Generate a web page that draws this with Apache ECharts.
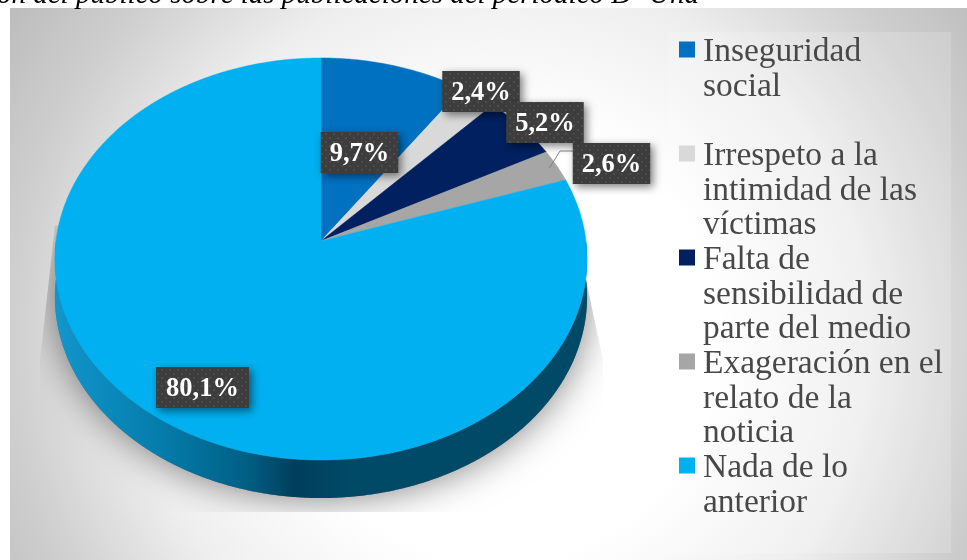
<!DOCTYPE html>
<html><head><meta charset="utf-8">
<style>html,body{margin:0;padding:0;background:#fff;overflow:hidden}#c{width:967px;height:560px}</style>
<script src="https://cdn.jsdelivr.net/npm/echarts@6/dist/echarts.min.js"></script>
</head><body><div id="c"></div>
<script>
const categories = ['Inseguridad\nsocial\n ', 'Irrespeto a la\nintimidad de las\nvíctimas', 'Falta de\nsensibilidad de\nparte del medio', 'Exageración en el\nrelato de la\nnoticia', 'Nada de lo\nanterior\n '];
const values = [9.7, 2.4, 5.2, 2.6, 80.1];
const colors = ['#0070c0', '#d9d9d9', '#002060', '#a6a6a6', '#00b0f0'];
const titleText = 'ón del público sobre las publicaciones del periódico D\u2019 Una';

// projection of the tilted disc
const disc = {cx: 321, cy: 241, a: 199.4, b: 265, p: 0.0896, depth: 38};
const labelCentres = [[359.5, 152.5], [481, 91.5], [545, 122.5], [611.5, 163.5], [202.5, 387.5]];
const leader = {index: 3, at: 0.97, elbow: [560, 151], end: [574, 151]};
const serif = '"Liberation Serif", "DejaVu Serif", serif';

const total = values.reduce((s, v) => s + v, 0);
function pt(frac, dy) {
  const t = 2 * Math.PI * frac, u = Math.sin(t), v = Math.cos(t), d = 1 + disc.p * v;
  return [disc.cx + disc.b * u / d, disc.cy - disc.a * v / d + (dy || 0)];
}
function arc(f0, f1, dy) {
  const n = Math.max(2, Math.ceil(Math.abs(f1 - f0) * 720)), out = [];
  for (let i = 0; i <= n; i++) out.push(pt(f0 + (f1 - f0) * i / n, dy));
  return out;
}
function startOf(i) { return values.slice(0, i).reduce((s, v) => s + v, 0) / total; }

const dots = document.createElement('canvas');
dots.width = dots.height = 8;
(function () {
  const g = dots.getContext('2d');
  g.fillStyle = '#3d3d3d'; g.fillRect(0, 0, 8, 8);
  g.fillStyle = '#4c4c4c';
  g.fillRect(1, 1, 2, 2); g.fillRect(5, 5, 2, 2);
})();

const wallSeries = {
  type: 'custom', name: 'wall', coordinateSystem: 'none', silent: true, z: 1,
  data: [[values[4]]],
  renderItem() {
    const top = arc(0.25, 0.75, 0), bottom = arc(0.75, 0.25, disc.depth);
    return {
      type: 'group',
      children: [
        {type: 'group',
         clipPath: {type: 'polygon', shape: {points: [[55, 225], [586, 280], [603, 360], [603, 512], [40, 512], [40, 360]]}},
         children: [{type: 'polygon', shape: {points: arc(0.2, 0.8, disc.depth)},
           style: {fill: '#777', shadowBlur: 38, shadowColor: 'rgba(0,0,0,0.5)'}}]},
        {type: 'polygon', shape: {points: top.concat(bottom)},
         style: {fill: {type: 'linear', x: 55, y: 0, x2: 587, y2: 0, global: true, colorStops: [
           {offset: 0, color: '#1196cc'}, {offset: 0.2, color: '#057cab'}, {offset: 0.36, color: '#005f85'},
           {offset: 0.45, color: '#003f5c'}, {offset: 0.56, color: '#004a68'}, {offset: 1, color: '#004a68'}]}}}
      ]
    };
  }
};

const sliceSeries = values.map((v, i) => ({
  type: 'custom', name: categories[i], coordinateSystem: 'none', silent: true, z: 2,
  itemStyle: {color: colors[i]},
  data: [[v]],
  renderItem(params, api) {
    const f0 = startOf(i), f1 = f0 + api.value(0) / total;
    return {type: 'polygon', shape: {points: [[disc.cx, disc.cy]].concat(arc(f0, f1, 0))},
      style: {fill: colors[i], stroke: colors[i], lineWidth: 0.5}};
  }
}));

const labelSeries = {
  type: 'custom', name: 'labels', coordinateSystem: 'none', silent: true, z: 5,
  data: values.map(v => [v]),
  renderItem(params, api) {
    const i = params.dataIndex, c = labelCentres[i];
    const txt = api.value(0).toFixed(1).replace('.', ',') + '%';
    const w = i === 4 ? 93 : 77.5, h = 41;
    const children = [];
    if (i === leader.index) {
      const p = pt(startOf(i) + values[i] / total * 0.5);
      const s = [p[0] + (disc.cx - p[0]) * (1 - leader.at), p[1] + (disc.cy - p[1]) * (1 - leader.at)];
      children.push({type: 'polyline', shape: {points: [s, leader.elbow, leader.end]},
        style: {stroke: '#7f7f7f', lineWidth: 1, fill: 'none'}});
    }
    children.push({type: 'rect', shape: {x: c[0] - w / 2, y: c[1] - h / 2, width: w, height: h},
      style: {fill: {image: dots, repeat: 'repeat'}, shadowBlur: 9, shadowOffsetX: 3, shadowOffsetY: 3, shadowColor: 'rgba(0,0,0,0.5)'}});
    children.push({type: 'text', x: c[0], y: c[1] + 1.5,
      style: {text: txt, fill: '#fff', font: 'bold 26.5px ' + serif, align: 'center', verticalAlign: 'middle'}});
    return {type: 'group', children};
  }
};

const legendIcon = 'path://M0 6.5H16V22.5H0Z M0 0L0 0Z M19 104L19 104Z';

const chart = echarts.init(document.getElementById('c'), null, {renderer: 'canvas'});
chart.setOption({
  animation: false,
  title: {text: titleText, left: -3, top: -19, padding: 0,
    textStyle: {fontFamily: serif, fontStyle: 'italic', fontWeight: 'normal', fontSize: 29, color: '#000'}},
  graphic: [
    {type: 'rect', z: -10, silent: true, shape: {x: 10, y: 8, width: 957, height: 552},
     style: {fill: {type: 'radial', global: true, x: 500, y: 340, r: 610, colorStops: [
       {offset: 0, color: '#ffffff'}, {offset: 0.36, color: '#ffffff'}, {offset: 0.6, color: '#eeeeee'},
       {offset: 0.8, color: '#cfcfcf'}, {offset: 1, color: '#b9b9b9'}]}}},
    {type: 'rect', z: -9, silent: true, shape: {x: 668, y: 32, width: 283, height: 521},
     style: {fill: 'rgba(255,255,255,0.16)'}}
  ],
  legend: {
    orient: 'vertical', left: 679, top: 35, padding: 0, itemGap: 0,
    itemWidth: 19, itemHeight: 104, selectedMode: false,
    data: categories.map(n => ({name: n, icon: legendIcon})),
    textStyle: {fontFamily: serif, fontSize: 33.5, color: '#484848', lineHeight: 34.6},
    itemStyle: {borderWidth: 0}
  },
  series: [wallSeries].concat(sliceSeries, [labelSeries])
});
</script></body></html>
